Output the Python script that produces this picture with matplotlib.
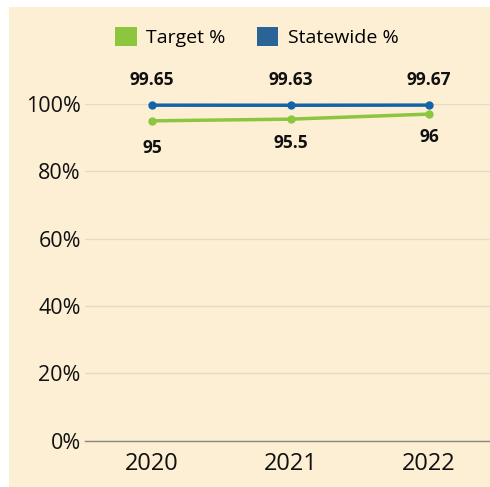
import matplotlib.pyplot as plt
from matplotlib.patches import Rectangle

# chart data
years = ['2020', '2021', '2022']
statewide = [99.65, 99.63, 99.67]
statewide_labels = ['99.65', '99.63', '99.67']
target = [95, 95.5, 97]
target_labels = ['95', '95.5', '96']
yticks = [0, 20, 40, 60, 80, 100]

green = '#8cc63f'
blue = '#1463a8'
blue_legend = '#2a6496'
bg = '#fdefd3'

plt.rcParams['font.family'] = ['Open Sans', 'DejaVu Sans']

fig = plt.figure(figsize=(4.9, 4.87), dpi=100)
fig.patches.append(Rectangle((9 / 490, 0), 1, 480 / 487, transform=fig.transFigure,
                             facecolor=bg, edgecolor='none', zorder=-10))

ax = fig.add_axes([85 / 490, 46.3 / 487, 405 / 490, 336.7 / 487])
ax.set_facecolor('none')

x = list(range(len(years)))
ax.plot(x, target, color=green, lw=2.5, marker='o', ms=5, clip_on=False, zorder=3)
ax.plot(x, statewide, color=blue, lw=2.5, marker='o', ms=5, clip_on=False, zorder=4)

# data labels
target_off = [-19.5, -17.5, -16.5]
for i in x:
    ax.annotate(statewide_labels[i], (i, statewide[i]), xytext=(0, 18), textcoords='offset points',
                ha='center', va='center', fontsize=12.5, fontweight='bold', color='#111111')
    ax.annotate(target_labels[i], (i, target[i]), xytext=(0, target_off[i]),
                textcoords='offset points', ha='center', va='center',
                fontsize=12.5, fontweight='bold', color='#111111')

ax.set_xlim(-0.484, 2.44)
ax.set_ylim(0, 100)
ax.set_xticks(x)
ax.set_xticklabels(years, fontsize=17, color='#111111')
ax.set_yticks(yticks)
ax.set_yticklabels([f'{v}%' for v in yticks], fontsize=15.5, color='#111111')
ax.tick_params(axis='both', length=0)
ax.tick_params(axis='y', pad=3)
ax.tick_params(axis='x', pad=8)
ax.grid(axis='y', color='#e2dcc6', lw=1)
ax.set_axisbelow(True)
for s in ['top', 'right', 'left']:
    ax.spines[s].set_visible(False)
ax.spines['bottom'].set_color('#888888')
ax.spines['bottom'].set_linewidth(1)

# legend
handles = [Rectangle((0, 0), 1, 1, facecolor=green, edgecolor='none'),
           Rectangle((0, 0), 1, 1, facecolor=blue_legend, edgecolor='none')]
fig.legend(handles, ['Target %', 'Statewide %'], loc='center', bbox_to_anchor=(257 / 490, 1 - 37 / 487),
           ncol=2, frameon=False, fontsize=14, handlelength=1.1, handleheight=1.1,
           handletextpad=0.5, columnspacing=1.6)

fig.savefig('out.png', dpi=100)
